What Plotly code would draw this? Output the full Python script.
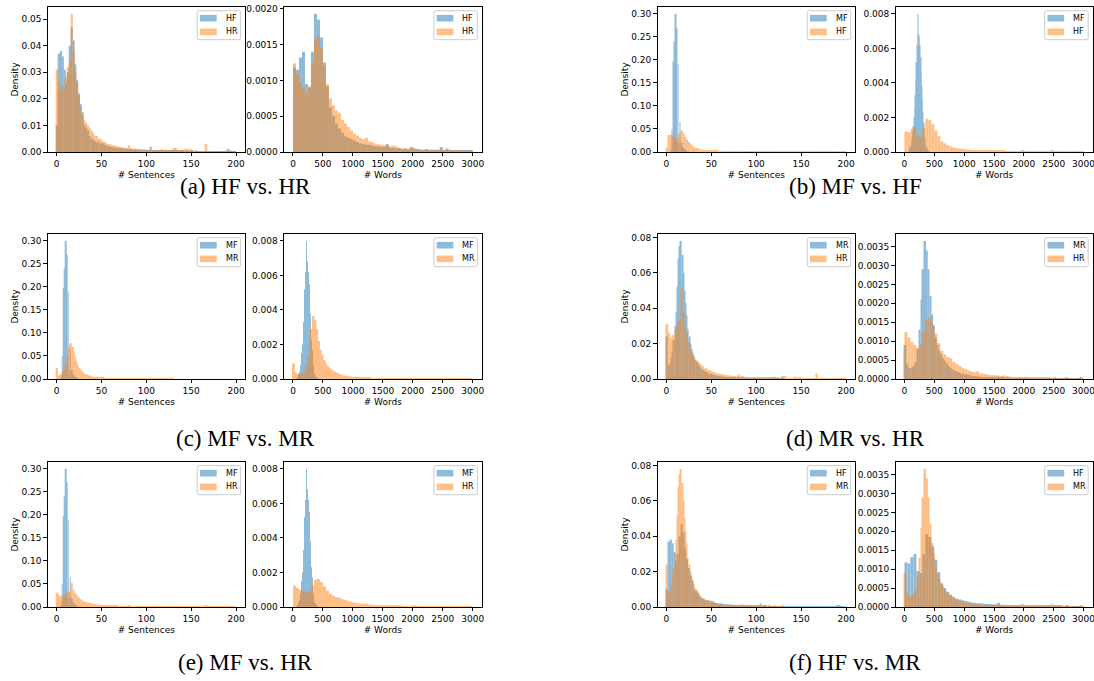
import numpy as np
import plotly.graph_objects as go

W, H = 1094, 681

# ---------------- data (densities) ----------------
# bin edges / positions (categories)
sent_edges_h = np.linspace(0, 200, 101)     # HF / HR sentences, width 2
sent_edges_mr = np.linspace(0, 130, 101)    # MR sentences, width 1.3
mf_sent_x = [5, 6, 7, 8, 9, 10, 11, 12, 13, 14, 15, 16, 17, 18, 19, 20, 21, 22, 24]
word_edges_h = np.linspace(0, 3000, 61)     # HF / HR words, width 50
word_edges_mr = np.linspace(0, 3000, 101)   # MR words, width 30
word_edges_mf = np.arange(80, 411, 10)      # MF words, width 10

hf_sent = [
    0.010, 0.037, 0.038, 0.036, 0.031, 0.026, 0.030, 0.040, 0.047, 0.042,
    0.033, 0.027, 0.022, 0.018, 0.015, 0.010, 0.009, 0.008, 0.006, 0.005,
    0.0045, 0.004, 0.0035, 0.004, 0.003, 0.0035, 0.0028, 0.0025, 0.0022, 0.002,
    0.002, 0.0018, 0.0016, 0.0017, 0.0015, 0.0014, 0.0013, 0.0012, 0.0013, 0.0011,
    0.0010, 0.0011, 0.0009, 0.0010, 0.0009, 0.0008, 0.0009, 0.0008, 0.0007, 0.0008,
    0.0007, 0.0007, 0.0020, 0.0007, 0.0006, 0.0006, 0.0005, 0.0006, 0.0005, 0.0005,
    0.0005, 0.0004, 0.0005, 0.0004, 0.0004, 0.0005, 0.0004, 0.0004, 0.0003, 0.0004,
    0.0004, 0.0003, 0.0004, 0.0003, 0.0003, 0.0004, 0.0003, 0.0003, 0.0003, 0.0003,
    0.0003, 0.0002, 0.0003, 0.0003, 0.0002, 0.0003, 0.0002, 0.0002, 0.0003, 0.0002,
    0.0002, 0.0002, 0.0003, 0.0002, 0.0002, 0.0012, 0.0008, 0.0002, 0.0002, 0.0003,
]
hr_sent = [
    0.031, 0.026, 0.023, 0.025, 0.024, 0.028, 0.032, 0.034, 0.052, 0.038,
    0.030, 0.026, 0.021, 0.017, 0.014, 0.012, 0.011, 0.010, 0.009, 0.008,
    0.007, 0.006, 0.006, 0.005, 0.005, 0.004, 0.004, 0.0035, 0.003, 0.003,
    0.0028, 0.0025, 0.0025, 0.0022, 0.002, 0.002, 0.0018, 0.0017, 0.0016, 0.0015,
    0.0025, 0.0014, 0.0013, 0.0013, 0.0012, 0.0011, 0.0011, 0.0010, 0.0010, 0.0009,
    0.0009, 0.0009, 0.0008, 0.0008, 0.0008, 0.0008, 0.0007, 0.0007, 0.0012, 0.0007,
    0.0006, 0.0006, 0.0006, 0.0005, 0.0005, 0.0015, 0.0015, 0.0005, 0.0005, 0.0004,
    0.0004, 0.0012, 0.0012, 0.0004, 0.0012, 0.0004, 0.0003, 0.0004, 0.0003, 0.0003,
    0.0003, 0.0003, 0.0003, 0.0030, 0.0003, 0.0003, 0.0003, 0.0002, 0.0003, 0.0002,
    0.0003, 0.0002, 0.0003, 0.0002, 0.0002, 0.0003, 0.0002, 0.0002, 0.0002, 0.0002,
]
mf_sent = [0.004, 0.050, 0.010, 0.197, 0.240, 0.300, 0.270, 0.020, 0.190, 0.020,
           0.065, 0.015, 0.020, 0.010, 0.008, 0.005, 0.004, 0.003, 0.002]
mr_sent = [
    0.024, 0.008, 0.007, 0.009, 0.012, 0.016, 0.022, 0.030, 0.038, 0.052,
    0.068, 0.075, 0.078, 0.070, 0.060, 0.050, 0.043, 0.036, 0.028, 0.024,
    0.020, 0.017, 0.015, 0.013, 0.011, 0.010, 0.009, 0.008, 0.007, 0.006,
    0.0055, 0.005, 0.0045, 0.004, 0.0038, 0.0035, 0.003, 0.003, 0.0028, 0.0025,
    0.0023, 0.0021, 0.002, 0.0019, 0.0018, 0.0016, 0.0015, 0.0014, 0.0013, 0.0012,
    0.0012, 0.0011, 0.0010, 0.0010, 0.0009, 0.0009, 0.0008, 0.0008, 0.0007, 0.0007,
    0.0006, 0.0006, 0.0006, 0.0005, 0.0005, 0.0015, 0.0005, 0.0004, 0.0004, 0.0004,
    0.0004, 0.0003, 0.0003, 0.0003, 0.0003, 0.0003, 0.0003, 0.0002, 0.0002, 0.0002,
    0.0002, 0.0002, 0.0002, 0.0002, 0.0002, 0.0001, 0.0002, 0.0001, 0.0001, 0.0001,
    0.0001, 0.0001, 0.0012, 0.0001, 0.0001, 0.0001, 0.0001, 0.0001, 0.0001, 0.0015,
]

hf_words = [
    0.00118, 0.00115, 0.00132, 0.00140, 0.00095, 0.00090, 0.00140, 0.00193, 0.00185, 0.00160,
    0.00125, 0.00092, 0.00062, 0.00050, 0.00040, 0.00033, 0.00027, 0.00022, 0.00020, 0.00018,
    0.00016, 0.00014, 0.00012, 0.00011, 0.00010, 0.00010, 0.00009, 0.00008, 0.00008, 0.00007,
    0.00007, 0.00011, 0.00006, 0.00006, 0.00005, 0.00005, 0.00004, 0.00005, 0.00004, 0.00007,
    0.00004, 0.00004, 0.00003, 0.00003, 0.00004, 0.00003, 0.00003, 0.00003, 0.00003, 0.00007,
    0.00003, 0.00005, 0.00003, 0.00002, 0.00003, 0.00002, 0.00002, 0.00002, 0.00002, 0.00002,
]
hr_words = [
    0.00124, 0.00110, 0.00098, 0.00090, 0.00082, 0.00092, 0.00125, 0.00158, 0.00162, 0.00145,
    0.00120, 0.00095, 0.00075, 0.00065, 0.00058, 0.00055, 0.00045, 0.00040, 0.00035, 0.00030,
    0.00026, 0.00023, 0.00020, 0.00018, 0.00020, 0.00015, 0.00014, 0.00012, 0.00011, 0.00010,
    0.00010, 0.00009, 0.00008, 0.00009, 0.00008, 0.00006, 0.00005, 0.00005, 0.00004, 0.00005,
    0.00006, 0.00004, 0.00004, 0.00003, 0.00004, 0.00003, 0.00003, 0.00003, 0.00003, 0.00002,
    0.00003, 0.00002, 0.00002, 0.00002, 0.00002, 0.00002, 0.00002, 0.00001, 0.00002, 0.00002,
]
mf_words = [
    0.0001, 0.0002, 0.0003, 0.0004, 0.0006, 0.0008, 0.0011, 0.0015, 0.0020, 0.0026,
    0.0033, 0.0042, 0.0052, 0.0062, 0.0080, 0.0068, 0.0066, 0.0062, 0.0055, 0.0047,
    0.0038, 0.0030, 0.0023, 0.0017, 0.0012, 0.0008, 0.0005, 0.0003, 0.0002, 0.00012,
    0.00008, 0.00005, 0.00003,
]
mr_words = [
    0.00090, 0.00040, 0.00030, 0.00028, 0.00030, 0.00035, 0.00045, 0.00080, 0.00130, 0.00210,
    0.00290, 0.00365, 0.00340, 0.00290, 0.00220, 0.00170, 0.00140, 0.00110, 0.00090, 0.00075,
    0.00065, 0.00056, 0.00048, 0.00042, 0.00036, 0.00031, 0.00027, 0.00024, 0.00021, 0.00019,
    0.00017, 0.00015, 0.00014, 0.00012, 0.00011, 0.00012, 0.00010, 0.00009, 0.00008, 0.00007,
    0.00007, 0.00006, 0.00006, 0.00005, 0.00005, 0.00005, 0.00004, 0.00004, 0.00004, 0.00004,
    0.00003, 0.00004, 0.00003, 0.00003, 0.00003, 0.00003, 0.00002, 0.00003, 0.00002, 0.00002,
    0.00002, 0.00002, 0.00002, 0.00002, 0.00002, 0.00002, 0.00002, 0.00001, 0.00002, 0.00001,
    0.00001, 0.00001, 0.00001, 0.00001, 0.00001, 0.00001, 0.00001, 0.00001, 0.00001, 0.00001,
    0.00001, 0.00001, 0.00001, 0.00001, 0.00001, 0.00001, 0.00001, 0.00001, 0.00001, 0.00001,
    0.00004, 0.00001, 0.00001, 0.00001, 0.00001, 0.00001, 0.00001, 0.00001, 0.00005, 0.00001,
]

sent_ticks = [0, 50, 100, 150, 200]
word_ticks = [0, 500, 1000, 1500, 2000, 2500, 3000]


def centers(edges):
    e = np.asarray(edges, dtype=float)
    return (e[:-1] + e[1:]) / 2, np.diff(e)


SENT = {
    'HF': (*centers(sent_edges_h), hf_sent),
    'HR': (*centers(sent_edges_h), hr_sent),
    'MR': (*centers(sent_edges_mr), mr_sent),
    'MF': (np.array(mf_sent_x, float), np.full(len(mf_sent_x), 0.6), mf_sent),
}
WORDS = {
    'HF': (*centers(word_edges_h), hf_words),
    'HR': (*centers(word_edges_h), hr_words),
    'MR': (*centers(word_edges_mr), mr_words),
    'MF': (*centers(word_edges_mf), mf_words),
}

# panels: (letter, first, second, row, col, sentence dtick, word dtick, word fmt)
panels = [
    ('a', 'HF', 'HR', 0, 0, 0.01, 0.0005, '.4f'),
    ('b', 'MF', 'HF', 0, 1, 0.05, 0.002, '.3f'),
    ('c', 'MF', 'MR', 1, 0, 0.05, 0.002, '.3f'),
    ('d', 'MR', 'HR', 1, 1, 0.02, 0.0005, '.4f'),
    ('e', 'MF', 'HR', 2, 0, 0.05, 0.002, '.3f'),
    ('f', 'HF', 'MR', 2, 1, 0.02, 0.0005, '.4f'),
]

# ---------------- layout geometry (pixels) ----------------
col_x = [[(47.7, 245.0), (284.0, 481.7)], [(657.5, 855.0), (895.5, 1092.5)]]
row_y = [(7.0, 152.0), (234.0, 379.0), (462.0, 607.0)]
cap_x = [245.0, 855.5]
cap_y = [186.0, 438.0, 662.0]

BLUE = '#1f77b4'
ORANGE = '#ff7f0e'
TICKFONT = dict(family='DejaVu Sans', size=9, color='black')
LEGFONT = dict(family='DejaVu Sans', size=8, color='black')


def px(x):
    return x / W


def py(y):
    return 1 - y / H


def rounded_rect(x0, y0, x1, y1, r=2.0):
    # pixel coords -> paper path with small rounded corners
    X = lambda v: '%.6f' % px(v)
    Y = lambda v: '%.6f' % py(v)
    return ('M %s,%s L %s,%s Q %s,%s %s,%s L %s,%s Q %s,%s %s,%s '
            'L %s,%s Q %s,%s %s,%s L %s,%s Q %s,%s %s,%s Z') % (
        X(x0 + r), Y(y0), X(x1 - r), Y(y0), X(x1), Y(y0), X(x1), Y(y0 + r),
        X(x1), Y(y1 - r), X(x1), Y(y1), X(x1 - r), Y(y1),
        X(x0 + r), Y(y1), X(x0), Y(y1), X(x0), Y(y1 - r),
        X(x0), Y(y0 + r), X(x0), Y(y0), X(x0 + r), Y(y0))


fig = go.Figure()
layout = dict(
    width=W, height=H, margin=dict(l=0, r=0, t=0, b=0), autosize=False,
    plot_bgcolor='white', paper_bgcolor='white', barmode='overlay',
    template='none', annotations=[], shapes=[], showlegend=False,
)

n = 0
for (letter, s1, s2, r, c, sdt, wdt, wfmt) in panels:
    for k, (src, xlabel, ticks, xr, dt, fmt) in enumerate([
        (SENT, '# Sentences', sent_ticks, [-10, 210], sdt, '.2f'),
        (WORDS, '# Words', word_ticks, [-150, 3150], wdt, wfmt),
    ]):
        n += 1
        sx = '' if n == 1 else str(n)
        ymax = 0
        for name, color in [(s1, BLUE), (s2, ORANGE)]:
            xc, wd, vals = src[name]
            ymax = max(ymax, max(vals))
            fig.add_trace(go.Bar(
                x=xc, y=vals, width=wd, name=name,
                marker=dict(color=color, line=dict(width=0)), opacity=0.5,
                xaxis='x' + sx, yaxis='y' + sx, hoverinfo='skip'))
        x0, x1 = col_x[c][k]
        yt, yb = row_y[r]
        axis_common = dict(
            ticks='outside', ticklen=3.5, tickwidth=0.8, tickcolor='black',
            showline=True, linecolor='black', linewidth=0.8, mirror=True,
            showgrid=False, zeroline=False, tickfont=TICKFONT, automargin=False,
            ticklabeloverflow='allow')
        layout['xaxis' + sx] = dict(
            domain=[px(x0), px(x1)], anchor='y' + sx, range=xr,
            tickmode='array', tickvals=ticks, ticktext=[str(t) for t in ticks],
            title=dict(text=xlabel, font=TICKFONT, standoff=3), **axis_common)
        ydict = dict(
            domain=[py(yb), py(yt)], anchor='x' + sx,
            range=[0, ymax * 1.05], tick0=0, dtick=dt, tickformat=fmt, **axis_common)
        if k == 0:
            ydict['title'] = dict(text='Density', font=TICKFONT, standoff=1)
        layout['yaxis' + sx] = ydict

        # legend box (matplotlib style) in the upper-right corner
        bx1 = x1 - 4.3
        bx0 = bx1 - 43.5
        by0 = yt + 3.7
        by1 = by0 + 29
        layout['shapes'].append(dict(
            type='path', xref='paper', yref='paper', path=rounded_rect(bx0, by0, bx1, by1),
            fillcolor='rgba(255,255,255,0.8)', line=dict(color='#cccccc', width=1),
            layer='above'))
        for j, (name, color) in enumerate([(s1, BLUE), (s2, ORANGE)]):
            cy = by0 + 7.5 + 13.7 * j
            layout['shapes'].append(dict(
                type='rect', xref='paper', yref='paper',
                x0=px(bx0 + 2.8), x1=px(bx0 + 19.5), y0=py(cy + 3.3), y1=py(cy - 3.3),
                fillcolor=color, opacity=0.5, line=dict(width=0), layer='above'))
            layout['annotations'].append(dict(
                text=name, x=px(bx0 + 26.5), y=py(cy), xref='paper', yref='paper',
                showarrow=False, xanchor='left', yanchor='middle', font=LEGFONT))
    cap = '(%s) %s vs. %s' % (letter, s1, s2)
    layout['annotations'].append(dict(
        text=cap, x=px(cap_x[c]), y=py(cap_y[r]), xref='paper', yref='paper',
        showarrow=False, xanchor='center', yanchor='middle',
        font=dict(family='Liberation Serif', size=23, color='black')))

fig.update_layout(**layout)
fig.write_html('out.html', config={'displayModeBar': False},
               post_script="document.body.style.margin='0px';")
